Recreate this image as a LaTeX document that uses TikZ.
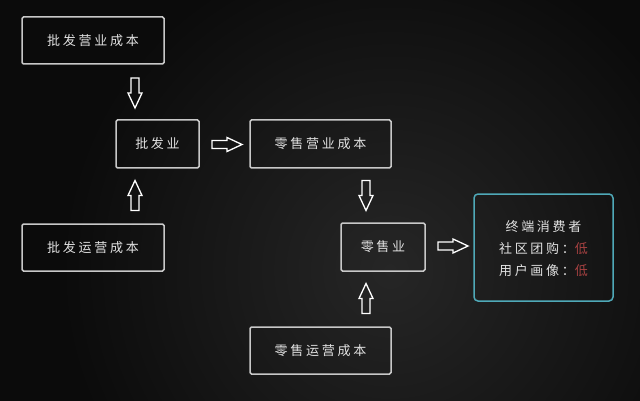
\documentclass[tikz,border=0pt]{standalone}
\usepackage{fontspec}
\newfontfamily\cjk{Noto Sans CJK SC}[LetterSpace=21]
\definecolor{bgdark}{HTML}{0B0B0B}
\definecolor{bglight}{HTML}{262626}
\definecolor{boxline}{HTML}{C8C8C8}
\definecolor{txt}{HTML}{E2E2E2}
\definecolor{cyanline}{HTML}{4FA9B8}
\definecolor{lowred}{HTML}{A84242}
\begin{document}
\begin{tikzpicture}[x=1pt,y=-1pt,
  box/.style={draw=boxline,line width=1.5pt,rounded corners=1.5pt,rectangle,inner sep=0pt,
    text=txt,font=\cjk\fontsize{13}{15}\selectfont},
  boxtext/.style={text=txt,font=\cjk\fontsize{13}{15}\selectfont},
  blockarrow/.style={draw=white,line width=1.3pt,line join=miter}]
\useasboundingbox (0,0) rectangle (640,401);
\fill[bgdark] (0,0) rectangle (640,401);
\begin{scope}
\clip (0,0) rectangle (640,401);
\shade[inner color=bglight,outer color=bgdark] (390,270) circle (330);
\end{scope}
\node[box,minimum width=142pt,minimum height=47pt] (A) at (93,40.5) {批发营业成本};
\node[box,minimum width=83pt,minimum height=48pt] (B) at (157.5,144) {批发业};
\node[box,minimum width=141pt,minimum height=48pt] (C) at (320.5,144) {零售营业成本};
\node[box,minimum width=142pt,minimum height=47pt] (D) at (93,247.5) {批发运营成本};
\node[box,minimum width=84pt,minimum height=48pt] (E) at (383,247) {零售业};
\node[box,draw=cyanline,rounded corners=4pt,minimum width=139pt,minimum height=107pt] (F) at (543.5,247.5) {};
\node[boxtext] (F1) at (543.5,226.5) {终端消费者};
\node[boxtext] (F2) at (543.5,248.5) {社区团购：\textcolor{lowred}{低}};
\node[boxtext] (F3) at (543.5,270.5) {用户画像：\textcolor{lowred}{低}};
\node[box,minimum width=141pt,minimum height=47pt] (G) at (320.5,350.5) {零售运营成本};
% block arrow anchor points
\coordinate (a1) at (135,93);
\coordinate (a2) at (227,144.5);
\coordinate (a3) at (135,195.5);
\coordinate (a4) at (366,195.5);
\coordinate (a5) at (453,246);
\coordinate (a6) at (366,298.5);
\foreach \c/\r in {a1/-90,a2/0,a3/90,a4/-90,a5/0,a6/90}{
  \draw[blockarrow,shift={(\c)},rotate=\r]
    (-15,-4) -- (0,-4) -- (0,-7) -- (15,0) -- (0,7) -- (0,4) -- (-15,4) -- cycle;
}
\end{tikzpicture}
\end{document}
